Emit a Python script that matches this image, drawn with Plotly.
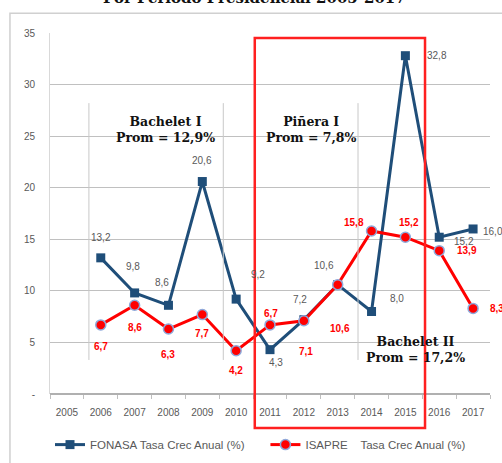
import plotly.graph_objects as go

years = [2005, 2006, 2007, 2008, 2009, 2010, 2011, 2012, 2013, 2014, 2015, 2016, 2017]
fonasa_years = [2006, 2007, 2008, 2009, 2010, 2011, 2012, 2013, 2014, 2015, 2016, 2017]
fonasa = [13.2, 9.8, 8.6, 20.6, 9.2, 4.3, 7.2, 10.6, 8.0, 32.8, 15.2, 16.0]
isapre_years = [2006, 2007, 2008, 2009, 2010, 2011, 2012, 2013, 2014, 2015, 2016, 2017]
isapre = [6.7, 8.6, 6.3, 7.7, 4.2, 6.7, 7.1, 10.6, 15.8, 15.2, 13.9, 8.3]
y_ticks = [0, 5, 10, 15, 20, 25, 30, 35]
y_ticktext = ["-", "5", "10", "15", "20", "25", "30", "35"]

# label offsets (pixels) for data labels
fon_off = [(0, 20), (-2, 26), (-6, 23), (0, 21), (22, 25), (6, -13), (-4, 20), (-14, 19), (25, 13), (32, 0), (25, -4), (20, -3)]
isa_off = [(0, -22), (0, -22), (0, -25), (0, -19), (0, -20), (1, 11), (2, -31), (2, -44), (-18, 9), (4, 15), (28, 0), (24, 0)]

BLUE = "#1F4E79"
RED = "#FF0000"
GRAY = "#595959"
SERIF = "DejaVu Serif"
NB = "\u00a0"

fig = go.Figure()
fig.add_trace(go.Scatter(
    x=fonasa_years, y=fonasa, mode="lines+markers",
    name="FONASA Tasa Crec Anual (%)" + NB * 5,
    line=dict(color=BLUE, width=3),
    marker=dict(symbol="square", size=9, color=BLUE),
))
fig.add_trace(go.Scatter(
    x=isapre_years, y=isapre, mode="lines+markers",
    name="ISAPRE" + NB * 4 + "Tasa Crec Anual (%)",
    line=dict(color=RED, width=3),
    marker=dict(symbol="circle", size=10, color=RED, line=dict(color="#8EA9DB", width=1.5)),
))

def fmt(v):
    return f"{v:.1f}".replace(".", ",")

anns = []
for xv, yv, (dx, dy) in zip(fonasa_years, fonasa, fon_off):
    anns.append(dict(x=xv, y=yv, text=fmt(yv), showarrow=False, xshift=dx, yshift=dy,
                     font=dict(family="Liberation Sans", size=10, color=GRAY)))
for xv, yv, (dx, dy) in zip(isapre_years, isapre, isa_off):
    anns.append(dict(x=xv, y=yv, text="<b>" + fmt(yv) + "</b>", showarrow=False, xshift=dx, yshift=dy,
                     font=dict(family="Liberation Sans", size=10, color=RED)))

period_font = dict(family=SERIF, size=12.5, color="#111111")
anns.append(dict(x=2007.9, y=25.6, text="<b>Bachelet I</b><br><b>Prom = 12,9%</b>", showarrow=False,
                 font=period_font, align="center"))
anns.append(dict(x=2012.2, y=25.6, text="<b>Piñera I</b><br><b>Prom = 7,8%</b>", showarrow=False,
                 font=period_font, align="center"))
anns.append(dict(x=2015.3, y=4.3, text="<b>Bachelet II</b><br><b>Prom = 17,2%</b>", showarrow=False,
                 font=period_font, align="center"))
anns.append(dict(x=0.465, y=1.066, xref="paper", yref="paper", yanchor="bottom",
                 text="<b>Por Período Presidencial 2005-2017</b>", showarrow=False,
                 font=dict(family=SERIF, size=15, color="#111111")))

shapes = [
    # outer chart frame
    dict(type="rect", xref="paper", yref="paper", x0=-0.091, x1=1.2, y0=-0.4, y1=1.055,
         line=dict(color="#d0d0d0", width=1.5), layer="below"),
    # text-box edge lines
    dict(type="line", x0=2005.65, x1=2005.65, y0=3.3, y1=28.2, line=dict(color="#c8c8c8", width=1)),
    dict(type="line", x0=2009.62, x1=2009.62, y0=3.3, y1=28.2, line=dict(color="#c8c8c8", width=1)),
    dict(type="line", x0=2013.6, x1=2013.6, y0=3.3, y1=28.2, line=dict(color="#c8c8c8", width=1)),
    # red highlight box
    dict(type="rect", xref="x", yref="paper", x0=2010.55, x1=2015.58, y0=-0.094, y1=0.986,
         line=dict(color="#FF2020", width=2.5), layer="above"),
]

fig.update_layout(
    width=502, height=463,
    margin=dict(l=50, r=12, t=33, b=69, autoexpand=False),
    paper_bgcolor="white", plot_bgcolor="white",
    showlegend=True,
    legend=dict(orientation="h", x=0.0, xanchor="left", y=-0.1, yanchor="top",
                font=dict(family="Liberation Sans", size=11.5, color=GRAY),
                itemwidth=30, tracegroupgap=0),
    annotations=anns,
    shapes=shapes,
    xaxis=dict(range=[2004.5, 2017.5], tickvals=years, ticktext=[str(y) for y in years],
               showgrid=False, showline=False, ticks="", zeroline=False, ticklabelstandoff=11,
               tickfont=dict(family="Liberation Sans", size=10, color=GRAY),
               minor=dict(tickvals=[y - 0.5 for y in years] + [years[-1] + 0.5], ticks="outside",
                          ticklen=4, tickcolor="#bfbfbf", showgrid=False)),
    yaxis=dict(range=[0, 35], tickvals=y_ticks, ticktext=y_ticktext,
               showgrid=True, gridcolor="#c0c0c0", gridwidth=1,
               showline=True, linecolor="#d9d9d9", zeroline=True, zerolinecolor="#b0b0b0",
               ticks="", ticklen=0, ticklabelstandoff=12,
               tickfont=dict(family="Liberation Sans", size=10, color=GRAY)),
)

fig.write_html("out.html", config={"displayModeBar": False},
               post_script="document.body.style.margin='0px';")
